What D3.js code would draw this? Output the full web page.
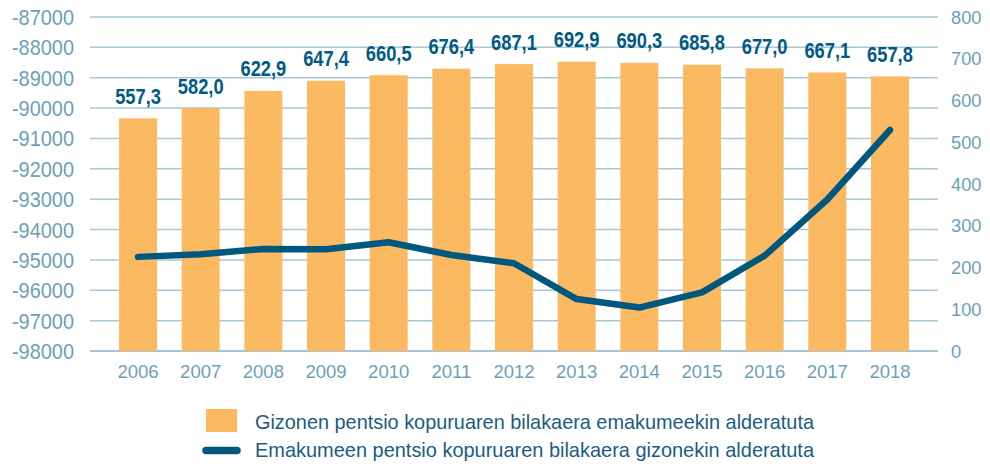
<!DOCTYPE html>
<html>
<head>
<meta charset="utf-8">
<script src="https://cdn.jsdelivr.net/npm/d3@7"></script>
<style>
  body { margin: 0; background: #fff; }
</style>
</head>
<body>
<div id="chart"></div>
<script>
var years = ["2006","2007","2008","2009","2010","2011","2012","2013","2014","2015","2016","2017","2018"];
// bars: right axis
var menValues = [557.3, 582.0, 622.9, 647.4, 660.5, 676.4, 687.1, 692.9, 690.3, 685.8, 677.0, 667.1, 657.8];
// line: left axis
var womenValues = [-94900, -94810, -94640, -94650, -94420, -94840, -95110, -96290, -96570, -96070, -94860, -93010, -90720];
var leftTicks = [-87000,-88000,-89000,-90000,-91000,-92000,-93000,-94000,-95000,-96000,-97000,-98000];
var rightTicks = [0,100,200,300,400,500,600,700,800];
var legendLabels = ["Gizonen pentsio kopuruaren bilakaera emakumeekin alderatuta",
                    "Emakumeen pentsio kopuruaren bilakaera gizonekin alderatuta"];

var W = 990, H = 464;
var font = "'Liberation Sans', Arial, sans-serif";
var axisColor = "#6d9fba", gridColor = "#a9c7d6";
var barColor = "#fbb962", lineColor = "#00587f", labelColor = "#005a84";

// squeeze a text horizontally (the original uses a condensed face)
function squeeze(sel, f) {
  sel.each(function() {
    var len = this.getComputedTextLength();
    d3.select(this).attr("textLength", len * f).attr("lengthAdjust", "spacingAndGlyphs");
  });
}

var svg = d3.select("#chart").append("svg")
    .attr("width", W).attr("height", H);

var x = d3.scaleBand().domain(years).range([106.7, 921.3])
    .paddingInner(0.394).paddingOuter(0.197);
var yL = d3.scaleLinear().domain([-98000, -87000]).range([351, 17]);
var yR = d3.scaleLinear().domain([0, 800]).range([351, 17]);

// gridlines
svg.append("g").selectAll("line")
    .data(leftTicks).enter().append("line")
    .attr("x1", 90).attr("x2", 938)
    .attr("y1", function(d){ return yL(d); })
    .attr("y2", function(d){ return yL(d); })
    .attr("stroke", function(d){ return d === -98000 ? "#86afc4" : gridColor; })
    .attr("stroke-width", 1.5);

// left axis labels
svg.append("g").selectAll("text")
    .data(leftTicks).enter().append("text")
    .attr("x", 74).attr("y", function(d){ return yL(d) + 8; })
    .attr("text-anchor", "end")
    .style("font-family", font).style("font-size", "22.4px")
    .attr("fill", axisColor)
    .text(function(d){ return d; })
    .call(squeeze, 0.89);

// right axis labels
svg.append("g").selectAll("text")
    .data(rightTicks).enter().append("text")
    .attr("x", 951).attr("y", function(d){ return yR(d) + 6.5; })
    .style("font-family", font).style("font-size", "18.3px")
    .attr("fill", axisColor)
    .text(function(d){ return d; });

// x labels
svg.append("g").selectAll("text")
    .data(years).enter().append("text")
    .attr("x", function(d){ return x(d) + x.bandwidth()/2; })
    .attr("y", 378)
    .attr("text-anchor", "middle")
    .style("font-family", font).style("font-size", "18.5px")
    .attr("fill", axisColor)
    .text(function(d){ return d; });

// bars
svg.append("g").selectAll("rect")
    .data(menValues).enter().append("rect")
    .attr("x", function(d,i){ return x(years[i]); })
    .attr("width", x.bandwidth())
    .attr("y", function(d){ return yR(d); })
    .attr("height", function(d){ return yR(0) - yR(d); })
    .attr("fill", barColor);

// bar value labels
svg.append("g").selectAll("text")
    .data(menValues).enter().append("text")
    .attr("x", function(d,i){ return x(years[i]) + x.bandwidth()/2; })
    .attr("y", function(d){ return yR(d) - 14.5; })
    .attr("text-anchor", "middle")
    .style("font-family", font).style("font-size", "22.3px").style("font-weight", "bold")
    .attr("fill", labelColor)
    .text(function(d){ return d.toFixed(1).replace(".", ","); })
    .call(squeeze, 0.82);

// line
var line = d3.line()
    .x(function(d,i){ return x(years[i]) + x.bandwidth()/2; })
    .y(function(d){ return yL(d); });
svg.append("path")
    .datum(womenValues)
    .attr("d", line)
    .attr("fill", "none")
    .attr("stroke", lineColor)
    .attr("stroke-width", 6.5)
    .attr("stroke-linecap", "round")
    .attr("stroke-linejoin", "round");

// legend
var lg = svg.append("g");
lg.append("rect").attr("x", 206).attr("y", 409).attr("width", 31).attr("height", 23).attr("fill", barColor);
lg.append("line").attr("x1", 206).attr("x2", 237).attr("y1", 450.5).attr("y2", 450.5)
    .attr("stroke", lineColor).attr("stroke-width", 7.5).attr("stroke-linecap", "round");
lg.selectAll("text").data(legendLabels).enter().append("text")
    .attr("x", 255).attr("y", function(d,i){ return 428.5 + i*28.5; })
    .style("font-family", font).style("font-size", "21px")
    .attr("fill", "#1a5c84")
    .text(function(d){ return d; })
    .attr("textLength", 559).attr("lengthAdjust", "spacingAndGlyphs");
</script>
</body>
</html>
